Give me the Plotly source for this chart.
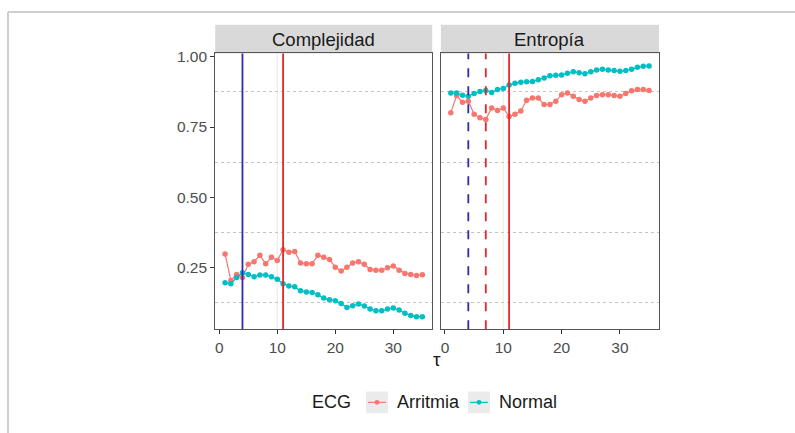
import plotly.graph_objects as go

# tau values (embedding delay)
tau = list(range(1, 36))

# Complexity per tau
comp_arritmia = [0.299, 0.205, 0.226, 0.215, 0.262, 0.271, 0.294, 0.264, 0.287, 0.276,
                 0.314, 0.305, 0.308, 0.267, 0.264, 0.264, 0.294, 0.287, 0.279, 0.252,
                 0.238, 0.252, 0.267, 0.271, 0.262, 0.244, 0.241, 0.241, 0.250, 0.256,
                 0.241, 0.229, 0.226, 0.222, 0.225]
comp_normal = [0.197, 0.193, 0.215, 0.232, 0.226, 0.218, 0.224, 0.224, 0.218, 0.209,
               0.193, 0.185, 0.182, 0.168, 0.164, 0.162, 0.154, 0.142, 0.136, 0.133,
               0.123, 0.109, 0.115, 0.121, 0.114, 0.103, 0.097, 0.097, 0.103, 0.107,
               0.100, 0.088, 0.080, 0.076, 0.076]

# Entropy per tau
ent_arritmia = [0.801, 0.862, 0.838, 0.842, 0.795, 0.783, 0.777, 0.818, 0.809, 0.818,
                0.787, 0.795, 0.807, 0.845, 0.853, 0.853, 0.830, 0.830, 0.842, 0.865,
                0.871, 0.859, 0.848, 0.842, 0.853, 0.862, 0.865, 0.865, 0.862, 0.859,
                0.869, 0.879, 0.883, 0.883, 0.880]
ent_normal = [0.871, 0.871, 0.863, 0.859, 0.869, 0.876, 0.880, 0.873, 0.883, 0.887,
              0.899, 0.906, 0.909, 0.911, 0.912, 0.918, 0.924, 0.932, 0.934, 0.935,
              0.941, 0.946, 0.943, 0.939, 0.946, 0.953, 0.955, 0.953, 0.951, 0.948,
              0.951, 0.955, 0.962, 0.966, 0.967]

panels = ["Complejidad", "Entropía"]
groups = ["Arritmia", "Normal"]
panel_data = [[comp_arritmia, comp_normal], [ent_arritmia, ent_normal]]

# Selected tau markers per panel: (tau, group, dash)
ref_taus = [
    [(4, "Normal", "solid"), (11, "Arritmia", "solid")],
    [(4, "Normal", "dash"), (7, "Arritmia", "dash"), (11, "Arritmia", "solid")],
]

y_ticks = [0.25, 0.50, 0.75, 1.00]
y_ticktext = ["0.25", "0.50", "0.75", "1.00"]
x_ticks = [0, 10, 20, 30]

series_col = {"Arritmia": "#F8766D", "Normal": "#00BFC4"}
ref_col = {"Arritmia": "#E3262B", "Normal": "#2B2BB0"}

W, H = 795, 433


def px_x(v):
    return v / W


def px_y(v):
    return 1 - v / H


# ggplot-style 5% expansion of the data range
all_x = tau
all_y = [v for p in panel_data for s in p for v in s]
xr = [min(all_x), max(all_x)]
yr = [min(all_y), max(all_y)]
xpad = 0.05 * (xr[1] - xr[0])
ypad = 0.05 * (yr[1] - yr[0])
x_range = [xr[0] - xpad, xr[1] + xpad]
y_range = [yr[0] - ypad, yr[1] + ypad]

panel_x = [(215.2, 432.2), (440.9, 659.0)]
panel_top, panel_bot = 49.0, 328.0
strip_top = 20.0

fig = go.Figure()
shapes = []
annotations = []

font_family = "Liberation Sans, Arial, sans-serif"

for i, name in enumerate(panels):
    sfx = "" if i == 0 else str(i + 1)
    xa, ya = "x" + sfx, "y" + sfx
    for g, vals in zip(groups, panel_data[i]):
        fig.add_trace(go.Scatter(
            x=tau, y=vals, mode="lines+markers", name=g,
            line=dict(color=series_col[g], width=1.2),
            marker=dict(color=series_col[g], size=5.5),
            xaxis=xa, yaxis=ya, showlegend=False,
        ))
    # faint guide at tau = 10
    shapes.append(dict(type="line", xref=xa, yref=ya + " domain", x0=10, x1=10,
                       y0=0, y1=1, line=dict(color="#EFEDED", width=1.2), layer="below"))
    for t, g, d in ref_taus[i]:
        shapes.append(dict(type="line", xref=xa, yref=ya + " domain", x0=t, x1=t,
                           y0=0, y1=1, line=dict(color=ref_col[g], width=1.8, dash=d),
                           layer="above"))
    # facet strip
    shapes.append(dict(type="rect", xref=xa + " domain", yref="paper", x0=0, x1=1,
                       y0=px_y(panel_top), y1=px_y(strip_top),
                       fillcolor="#D9D9D9", line=dict(width=0), layer="below"))
    annotations.append(dict(xref=xa + " domain", yref="paper", x=0.5,
                            y=px_y((strip_top + panel_top) / 2), text=name,
                            showarrow=False, xanchor="center", yanchor="middle",
                            font=dict(size=18.5, color="#1A1A1A", family=font_family)))

    axis_common = dict(showline=True, mirror=True, linecolor="#555555", linewidth=1,
                       zeroline=False)
    fig.layout["xaxis" + sfx] = dict(
        domain=[px_x(panel_x[i][0]), px_x(panel_x[i][1])], range=x_range,
        anchor=ya, tickvals=x_ticks, ticks="outside", ticklen=4, tickcolor="#333333",
        showgrid=False, tickfont=dict(size=15.5, color="#4D4D4D", family=font_family),
        **axis_common)
    fig.layout["yaxis" + sfx] = dict(
        domain=[px_y(panel_bot), px_y(panel_top)], range=y_range, anchor=xa,
        tickvals=y_ticks, ticktext=y_ticktext, showgrid=False,
        ticks="outside" if i == 0 else "", ticklen=4, tickcolor="#333333",
        showticklabels=(i == 0),
        tickfont=dict(size=15.5, color="#4D4D4D", family=font_family),
        minor=dict(tick0=0.125, dtick=0.25, showgrid=True, gridcolor="#C4C4C4",
                   gridwidth=0.9, griddash="3px,3px", ticks=""),
        **axis_common)

# x-axis title
annotations.append(dict(xref="paper", yref="paper", x=px_x(437), y=px_y(359),
                        text="τ", showarrow=False, xanchor="center", yanchor="middle",
                        font=dict(size=19, color="#1A1A1A", family=font_family)))

# legend drawn below the panels
leg_y = 402
annotations.append(dict(xref="paper", yref="paper", x=px_x(353), y=px_y(leg_y),
                        text="ECG", showarrow=False, xanchor="right", yanchor="middle",
                        font=dict(size=18, color="#1A1A1A", family=font_family)))
key_left = {"Arritmia": 366, "Normal": 468}
label_left = {"Arritmia": 395, "Normal": 497}
for g in groups:
    kx = key_left[g]
    shapes.append(dict(type="rect", xref="paper", yref="paper",
                       x0=px_x(kx), x1=px_x(kx + 22), y0=px_y(leg_y + 11), y1=px_y(leg_y - 11),
                       fillcolor="#EBEBEB", line=dict(width=0)))
    shapes.append(dict(type="line", xref="paper", yref="paper",
                       x0=px_x(kx + 2), x1=px_x(kx + 20), y0=px_y(leg_y), y1=px_y(leg_y),
                       line=dict(color=series_col[g], width=1.2)))
    shapes.append(dict(type="circle", xref="paper", yref="paper",
                       x0=px_x(kx + 8.5), x1=px_x(kx + 13.5),
                       y0=px_y(leg_y + 2.5), y1=px_y(leg_y - 2.5),
                       fillcolor=series_col[g], line=dict(width=0)))
    annotations.append(dict(xref="paper", yref="paper", x=px_x(label_left[g]), y=px_y(leg_y),
                            text=g, showarrow=False, xanchor="left", yanchor="middle",
                            font=dict(size=18, color="#1A1A1A", family=font_family)))

# outer frame
shapes.append(dict(type="line", xref="paper", yref="paper", x0=px_x(8), x1=1,
                   y0=px_y(7), y1=px_y(7), line=dict(color="#CFCFCF", width=2)))
shapes.append(dict(type="line", xref="paper", yref="paper", x0=px_x(8), x1=px_x(8),
                   y0=0, y1=px_y(7), line=dict(color="#CFCFCF", width=2)))

fig.update_layout(
    width=W, height=H, margin=dict(l=0, r=0, t=0, b=0),
    paper_bgcolor="white", plot_bgcolor="white",
    shapes=shapes, annotations=annotations, showlegend=False,
    font=dict(family=font_family),
)

fig.write_html("out.html")
